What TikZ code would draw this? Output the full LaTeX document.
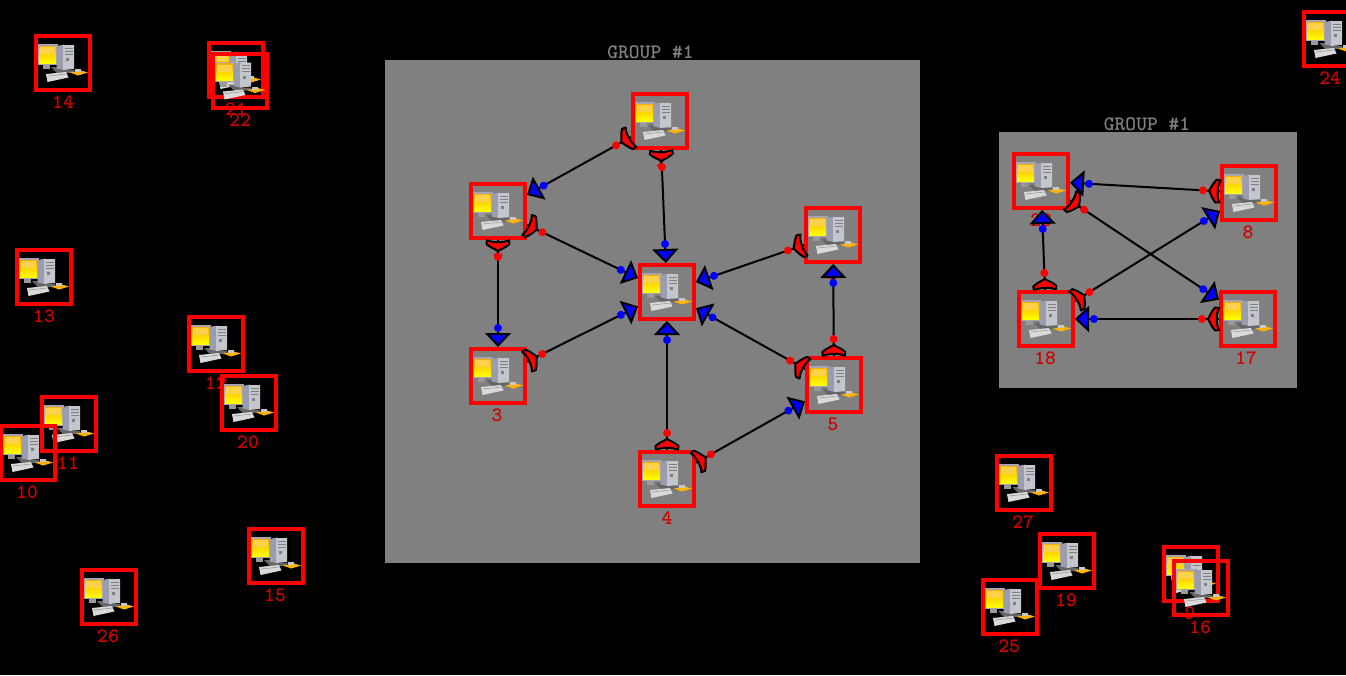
\documentclass[tikz,border=0pt]{standalone}
\usepackage{fontspec}
\usetikzlibrary{arrows.meta,decorations.markings}
\definecolor{grouphue}{HTML}{808080}
\definecolor{hostred}{HTML}{FF0000}
\definecolor{numred}{HTML}{D00000}
\definecolor{towerside}{HTML}{9A9CB0}
\definecolor{towerfront}{HTML}{C4C6CE}
\newcommand{\comp}{%
    % monitor
    \fill[black!40] (-20,1) rectangle (-13,6);
    \fill[black!60] (-12,4)--(-6,4)--(3,7)--(11,7)--(11,10)--(-6,10)--cycle;
    \fill[blue!15!black!35!white] (-25.5,-19)--(-5.5,-19)--(-5.5,1.5)--(-25.5,1.5)--cycle;
    \shade[top color=orange!65!yellow,bottom color=yellow] (-24,-17) rectangle (-7,0);
    \fill[yellow!55!orange!70!white] (-23,-16) rectangle (-8,-9);
    % tower
    \fill[towerside] (-6.5,-17)--(1,-18.5)--(1,7)--(-6.5,5.5)--cycle;
    \fill[towerfront] (0,-18)--(11,-18)--(11,6)--(0,7)--cycle;
    \draw[black!50,line width=0.7pt] (2,-15)--(10,-15);
    \draw[black!50,line width=0.7pt] (2,-12)--(10,-12);
    \draw[black!50,line width=0.7pt] (2,-9)--(10,-9);
    \fill[black!50] (3,-5) rectangle (6,-2);
    % keyboard
    \fill[black!15] (-17,11)--(3,9)--(5.5,14.5)--(-15.5,19)--cycle;
    \draw[black!40,line width=0.6pt] (-15,13)--(3.5,11);
    % mouse pad
    \fill[orange!60!yellow] (7,9.5)--(18,7.5)--(25,9.5)--(15,12.5)--cycle;
    \fill[black!22] (12,6) rectangle (18,9);
}
\tikzset{
    groupbox/.style={fill=grouphue,inner sep=0pt},
    grouptitle/.style={text=grouphue,inner sep=0pt},
    host/.style={draw=hostred,line width=4pt,minimum size=54pt,inner sep=0pt,
        path picture={\begin{scope}[shift={(path picture bounding box.center)}]\comp\end{scope}}},
    num/.style={text=numred,inner sep=0pt},
    link/.style={draw=black,line width=2pt,
        -{Triangle[width=26pt,length=14pt,fill=blue,line width=2pt]},
        postaction={decorate},
        decoration={markings,
            mark=at position 0 with {\filldraw[fill=hostred,draw=black,line width=2pt,line join=round]
                (0,-11)--(4,-11.5) .. controls (8,-7) and (9,-3) .. (11,0)
                .. controls (9,3) and (8,7) .. (4,11.5)--(0,11)
                .. controls (3,6) and (3,-6) .. (0,-11)--cycle;},
            mark=at position 17pt with {\fill[hostred] (0,0) circle (4);},
            mark=at position -19pt with {\fill[blue] (0,0) circle (4);}}}
}
\begin{document}
\begin{tikzpicture}[x=1pt,y=-1pt,font=\ttfamily\bfseries\fontsize{20.5}{21}\selectfont]
    \useasboundingbox[fill=black] (0,0) rectangle (1346,675);
    \node[groupbox,minimum width=535pt,minimum height=503pt] (ga) at (652.5,311.5) {};
    \node[grouptitle] (gat) at (650.5,52) {GROUP \#1};
    \node[groupbox,minimum width=298pt,minimum height=256pt] (gb) at (1148,260) {};
    \node[grouptitle] (gbt) at (1147,124) {GROUP \#1};
    % free hosts
    \node[host] (h14) at (63,63) {};
    \node[num] (n14) at (63,102) {14};
    \node[host] (h21) at (236,70) {};
    \node[num] (n21) at (236,109) {21};
    \node[host] (h22) at (240,80.5) {};
    \node[num] (n22) at (240,120) {22};
    \node[host] (h24) at (1331,39) {};
    \node[num] (n24) at (1330,78) {24};
    \node[host] (h13) at (44,277) {};
    \node[num] (n13) at (44,316) {13};
    \node[host] (h12) at (216,344) {};
    \node[num] (n12) at (216,383) {12};
    \node[host] (h11) at (69,424) {};
    \node[num] (n11) at (68,463) {11};
    \node[host] (h10) at (28,453) {};
    \node[num] (n10) at (27,492) {10};
    \node[host] (h20) at (249,403) {};
    \node[num] (n20) at (248,442) {20};
    \node[host] (h15) at (276,556) {};
    \node[num] (n15) at (275,595) {15};
    \node[host] (h26) at (109,597) {};
    \node[num] (n26) at (108,636) {26};
    \node[host] (h27) at (1024,483) {};
    \node[num] (n27) at (1023,522) {27};
    \node[host] (h19) at (1067,561) {};
    \node[num] (n19) at (1066,600) {19};
    \node[host] (h25) at (1010,607) {};
    \node[num] (n25) at (1009,646) {25};
    \node[host] (h9) at (1191,574) {};
    \node[num] (n9) at (1190,613) {9};
    \node[host] (h16) at (1201,588) {};
    \node[num] (n16) at (1200,627) {16};
    % first group
    \node[host] (h1) at (660,121) {};
    \node[num] (n1) at (660,160) {1};
    \node[host] (h2) at (498,211) {};
    \node[num] (n2) at (498,250) {2};
    \node[host] (h3) at (498,376) {};
    \node[num] (n3) at (497,415) {3};
    \node[host] (h7) at (667,292) {};
    \node[num] (n7) at (667,331) {7};
    \node[host] (h6) at (833,235) {};
    \node[num] (n6) at (833,274) {6};
    \node[host] (h5) at (834,385) {};
    \node[num] (n5) at (833,424) {5};
    \node[host] (h4) at (667,479) {};
    \node[num] (n4) at (667,518) {4};
    % second group
    \node[host] (h28) at (1041,181) {};
    \node[num] (n28) at (1041,220) {28};
    \node[host] (h8) at (1249,193) {};
    \node[num] (n8) at (1248,232) {8};
    \node[host] (h18) at (1046,319) {};
    \node[num] (n18) at (1045,358) {18};
    \node[host] (h17) at (1248,319) {};
    \node[num] (n17) at (1246,358) {17};
    % links
    \draw[link] (h1)--(h2);
    \draw[link] (h1)--(h7);
    \draw[link] (h2)--(h7);
    \draw[link] (h2)--(h3);
    \draw[link] (h3)--(h7);
    \draw[link] (h6)--(h7);
    \draw[link] (h5)--(h7);
    \draw[link] (h5)--(h6);
    \draw[link] (h4)--(h7);
    \draw[link] (h4)--(h5);
    \draw[link] (h8)--(h28);
    \draw[link] (h28)--(h17);
    \draw[link] (h18)--(h8);
    \draw[link] (h18)--(h28);
    \draw[link] (h17)--(h18);
\end{tikzpicture}
\end{document}
